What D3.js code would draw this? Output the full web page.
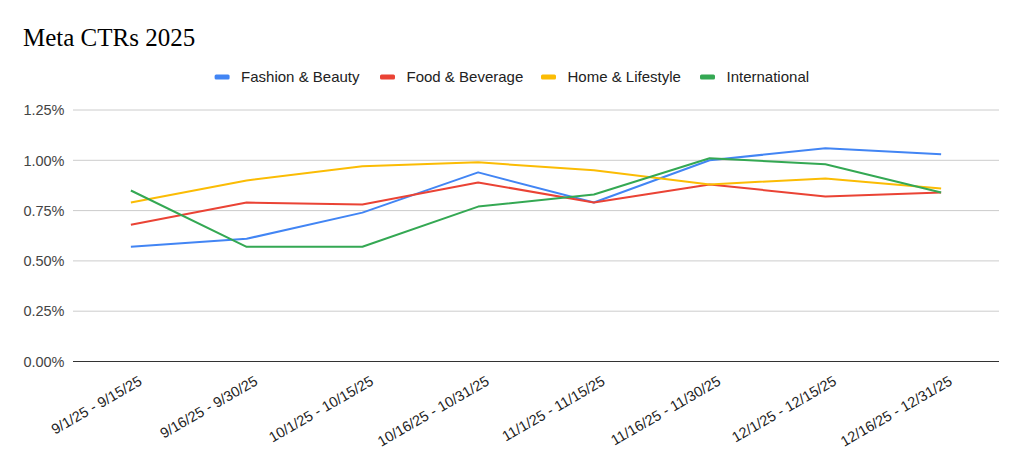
<!DOCTYPE html>
<html><head><meta charset="utf-8">
<script src="https://cdn.jsdelivr.net/npm/d3@7"></script>
<style>body{margin:0;background:#fff}svg{display:block}</style>
</head><body>
<svg id="c" width="1024" height="465"></svg>
<script>
const categories = ["9/1/25 - 9/15/25","9/16/25 - 9/30/25","10/1/25 - 10/15/25","10/16/25 - 10/31/25","11/1/25 - 11/15/25","11/16/25 - 11/30/25","12/1/25 - 12/15/25","12/16/25 - 12/31/25"];
const seriesNames = ["Fashion & Beauty","Food & Beverage","Home & Lifestyle","International"];
const fashion = [0.57,0.61,0.74,0.94,0.79,1.00,1.06,1.03];
const food = [0.68,0.79,0.78,0.89,0.79,0.88,0.82,0.84];
const home = [0.79,0.90,0.97,0.99,0.95,0.88,0.91,0.86];
const intl = [0.85,0.57,0.57,0.77,0.83,1.01,0.98,0.84];
const yTicks = [0,0.25,0.5,0.75,1.0,1.25];
const colors = ["#4285F4","#EA4335","#FBBC04","#34A853"];
const seriesValues = [fashion, food, home, intl];

const svg = d3.select("#c");
const L = 73, R = 999, T = 110, B = 361.5;
const x = d3.scaleBand().domain(categories).range([L, R]);
const y = d3.scaleLinear().domain([0, 1.25]).range([B, T]);
const font = "'Liberation Sans', Arial, sans-serif";

svg.append("text").attr("x", 23).attr("y", 45.5)
  .attr("font-family", "'Liberation Serif','Times New Roman',serif")
  .attr("font-size", 25).attr("fill", "#000").text("Meta CTRs 2025");

// gridlines
const g = svg.append("g");
g.selectAll("line.grid").data(yTicks.filter(d => d > 0)).join("line")
  .attr("x1", L).attr("x2", R)
  .attr("y1", d => y(d)).attr("y2", d => y(d))
  .attr("stroke", "#cccccc").attr("stroke-width", 1);

// y labels
g.selectAll("text.yl").data(yTicks).join("text")
  .attr("x", 64.5).attr("y", d => y(d)).attr("dy", "0.36em")
  .attr("text-anchor", "end").attr("font-family", font).attr("font-size", 14.5)
  .attr("fill", "#444").text(d => d3.format(".2f")(d) + "%");

// lines
const line = d3.line().x((d, i) => x(categories[i]) + x.bandwidth() / 2).y(d => y(d));
seriesValues.forEach((vals, k) => {
  svg.append("path").datum(vals).attr("d", line)
    .attr("fill", "none").attr("stroke", colors[k]).attr("stroke-width", 2)
    .attr("stroke-linejoin", "round");
});

// baseline
svg.append("line").attr("x1", L).attr("x2", R).attr("y1", y(0)).attr("y2", y(0))
  .attr("stroke", "#333").attr("stroke-width", 1);

// x labels
svg.selectAll("text.xl").data(categories).join("text")
  .attr("transform", d => `translate(${x(d) + x.bandwidth() / 2 + 12},384) rotate(-30)`)
  .attr("text-anchor", "end").attr("font-family", font).attr("font-size", 14.5)
  .attr("fill", "#222").text(d => d);

// legend
const legendX = [214.6, 380, 541, 700];
const lg = svg.append("g");
seriesNames.forEach((n, k) => {
  lg.append("rect").attr("x", legendX[k]).attr("y", 74.5).attr("width", 15).attr("height", 5)
    .attr("rx", 1.5).attr("fill", colors[k]);
  lg.append("text").attr("x", legendX[k] + 26.5).attr("y", 77).attr("dy", "0.36em")
    .attr("font-family", font).attr("font-size", 15).attr("fill", "#222").text(n);
});
</script>
</body></html>
